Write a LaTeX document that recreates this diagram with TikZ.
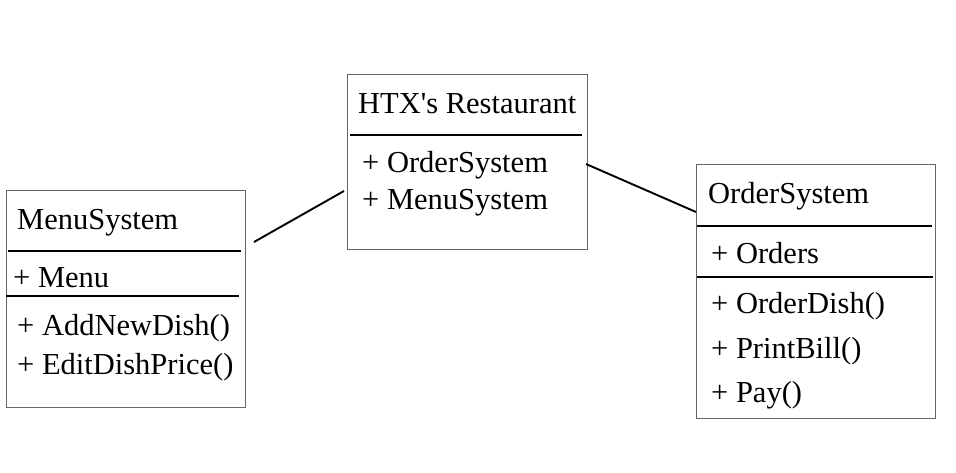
\documentclass[tikz,border=0pt]{standalone}
\usepackage{fontspec}
\setmainfont{Liberation Serif}[Ligatures=TeXOff]
\begin{document}
\begin{tikzpicture}[x=1pt,y=-1pt,
  umlbox/.style={draw=black!60, line width=1.3pt, anchor=north west, inner sep=0pt},
  sepline/.style={draw=black, line width=2.3pt},
  conn/.style={draw=black, line width=1.9pt},
  lbl/.style={anchor=base west, inner sep=0pt, font=\fontsize{30.5}{36}\selectfont}]
\useasboundingbox (0,0) rectangle (956,472);
% MenuSystem
\node[umlbox, minimum width=239pt, minimum height=217pt] (menubox) at (6,190) {};
\draw[sepline] (8,251) -- (241,251);
\draw[sepline] (6,296) -- (239,296);
\node[lbl] (m1) at (17,229) {MenuSystem};
\node[lbl] (m2) at (13,287) {+ Menu};
\node[lbl] (m3) at (17,335) {+ AddNewDish()};
\node[lbl] (m4) at (17,374) {+ EditDishPrice()};
% HTX's Restaurant
\node[umlbox, minimum width=240pt, minimum height=175pt] (htxbox) at (347,74) {};
\draw[sepline] (350,135) -- (582,135);
\node[lbl] (h1) at (358,113) {HTX's Restaurant};
\node[lbl] (h2) at (362,172) {+ OrderSystem};
\node[lbl] (h3) at (362,209) {+ MenuSystem};
% OrderSystem
\node[umlbox, minimum width=239pt, minimum height=254pt] (ordbox) at (696,164) {};
\draw[sepline] (697,226) -- (932,226);
\draw[sepline] (697,277) -- (933,277);
\node[lbl] (o1) at (708,203) {OrderSystem};
\node[lbl] (o2) at (711,263) {+ Orders};
\node[lbl] (o3) at (711,313) {+ OrderDish()};
\node[lbl] (o4) at (711,358) {+ PrintBill()};
\node[lbl] (o5) at (711,402) {+ Pay()};
% connectors
\coordinate (c1a) at (254,242);
\coordinate (c1b) at (344,191);
\coordinate (c2a) at (586,164);
\coordinate (c2b) at (696,212);
\draw[conn] (c1a) -- (c1b);
\draw[conn] (c2a) -- (c2b);
\end{tikzpicture}
\end{document}
